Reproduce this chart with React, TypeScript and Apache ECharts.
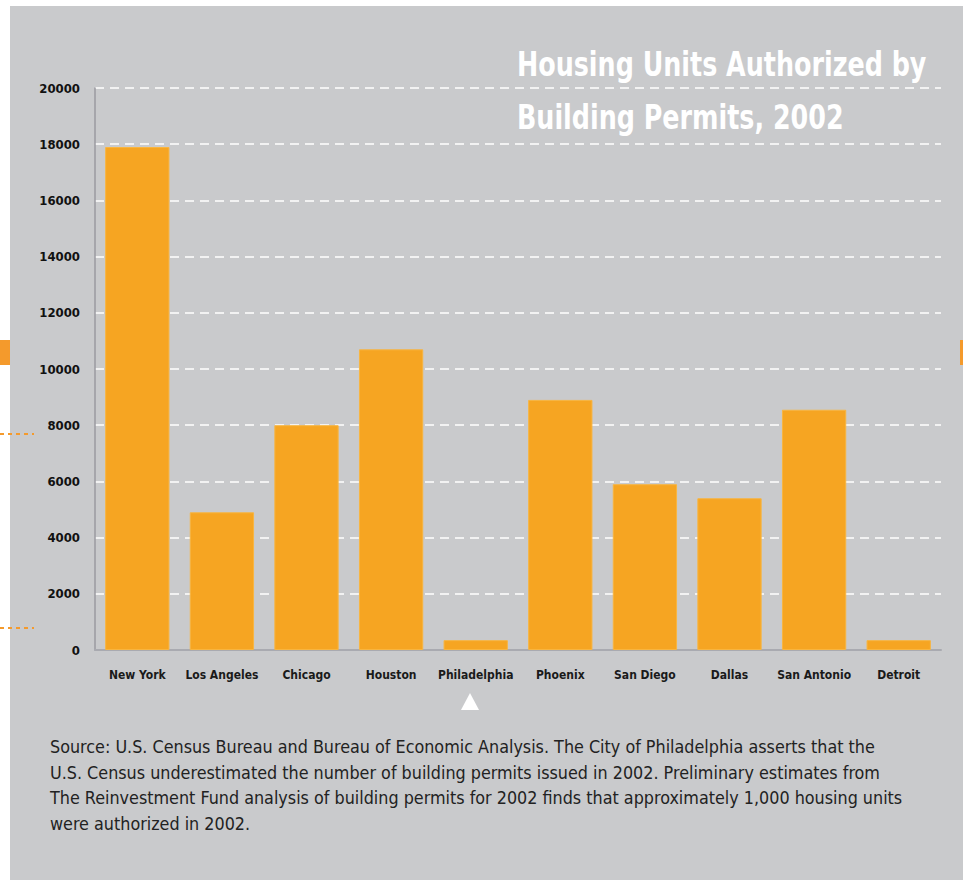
import React, { useEffect, useRef } from "react";
import * as echarts from "echarts";

const cities = ["New York", "Los Angeles", "Chicago", "Houston", "Philadelphia", "Phoenix", "San Diego", "Dallas", "San Antonio", "Detroit"];
const permits = [17900, 4900, 8000, 10700, 350, 8900, 5900, 5400, 8550, 350];
const yTicks = [0, 2000, 4000, 6000, 8000, 10000, 12000, 14000, 16000, 18000, 20000];
const titleLines = ["Housing Units Authorized by", "Building Permits, 2002"];
const noteLines = [
  "Source: U.S. Census Bureau and Bureau of Economic Analysis. The City of Philadelphia asserts that the",
  "U.S. Census underestimated the number of building permits issued in 2002. Preliminary estimates from",
  "The Reinvestment Fund analysis of building permits for 2002 finds that approximately 1,000 housing units",
  "were authorized in 2002.",
];

const NARROW = "'DejaVu Sans Condensed', 'Liberation Sans', Arial, sans-serif";

export default function App() {
  const ref = useRef<HTMLDivElement>(null);
  useEffect(() => {
    document.body.style.margin = "0";
    const chart = echarts.init(ref.current!, null, { renderer: "svg" });
    const option: any = {
      animation: false,
      backgroundColor: "#ffffff",
      grid: { left: 95, right: 22, top: 88, bottom: 230, containLabel: false },
      xAxis: {
        type: "category",
        data: cities,
        axisLine: { show: true, lineStyle: { color: "#a9aab0", width: 2 } },
        axisTick: { show: false },
        axisLabel: {
          color: "#1a1a1a",
          fontFamily: NARROW,
          fontWeight: "bold",
          fontSize: 12,
          margin: 19,
          interval: 0,
        },
      },
      yAxis: {
        type: "value",
        min: 0,
        max: 20000,
        interval: 2000,
        axisLine: { show: true, lineStyle: { color: "#9a9aa0", width: 1.5 } },
        axisTick: { show: false },
        axisLabel: {
          color: "#111111",
          fontFamily: NARROW,
          fontWeight: "bold",
          fontSize: 13,
          margin: 15,
          customValues: yTicks,
          formatter: (v: number) => String(v),
        },
        splitLine: {
          show: true,
          lineStyle: { color: "#f2f2f2", width: 2, type: [9, 6] },
        },
      },
      series: [
        {
          type: "bar",
          data: permits,
          barCategoryGap: "24%",
          itemStyle: { color: "#f6a522", borderColor: "#f8b540", borderWidth: 1 },
          z: 3,
        },
      ],
      graphic: [
        {
          type: "rect",
          z: -100,
          silent: true,
          shape: { x: 10, y: 6, width: 953, height: 874 },
          style: { fill: "#c9cacc" },
        },
        { type: "rect", z: 100, shape: { x: 0, y: 340, width: 10, height: 25 }, style: { fill: "#f49a2c" } },
        { type: "rect", z: 100, shape: { x: 960, y: 340, width: 3, height: 25 }, style: { fill: "#f49a2c" } },
        { type: "line", z: 100, shape: { x1: 0, y1: 434, x2: 34, y2: 434 }, style: { stroke: "#f49a2c", lineWidth: 2, lineDash: [4, 4] } },
        { type: "line", z: 100, shape: { x1: 0, y1: 628, x2: 34, y2: 628 }, style: { stroke: "#f49a2c", lineWidth: 2, lineDash: [4, 4] } },
        {
          type: "polygon",
          z: 100,
          shape: { points: [[470, 693], [461, 710], [479, 710]] },
          style: { fill: "#ffffff" },
        },
        {
          type: "text",
          z: 100,
          x: 517,
          y: 38,
          scaleX: 0.83,
          style: {
            x: 0,
            y: 0,
            text: titleLines.join("\n"),
            fill: "#ffffff",
            font: `bold 34px ${NARROW}`,
            lineHeight: 53,
            verticalAlign: "top",
            align: "left",
          },
        },
        {
          type: "text",
          z: 100,
          left: 50,
          top: 734,
          style: {
            text: noteLines.join("\n"),
            fill: "#222222",
            font: `17.8px ${NARROW}`,
            lineHeight: 25.5,
          },
        },
      ],
    };
    chart.setOption(option);
    return () => chart.dispose();
  }, []);
  return <div ref={ref} style={{ width: 963, height: 880 }} />;
}
